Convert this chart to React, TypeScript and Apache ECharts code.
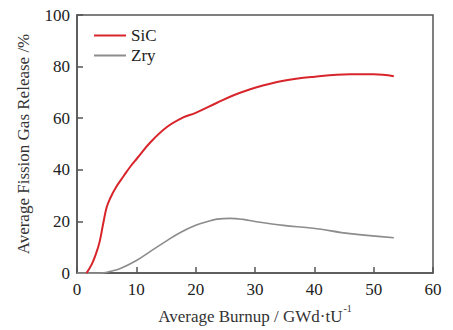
import React, { useEffect, useRef } from "react";
import * as echarts from "echarts";

const sicX = [1.6, 2.5, 3.2, 3.8, 4.4, 5.0, 5.6, 6.5, 7.9, 9, 10.1, 12.3, 15.1, 17.9, 19.9, 23.6, 26.4, 30, 34.8, 39.8, 46, 50, 53.4];
const sicY = [0, 3.5, 7.5, 12, 19, 25.5, 29, 33, 37.7, 41.3, 44.4, 50.5, 56.5, 60.3, 62, 66, 68.9, 71.8, 74.5, 76, 77, 77, 76.3];
const zryX = [0, 3, 4.5, 5.5, 7.3, 10.1, 12.3, 15.1, 17.5, 19.9, 22, 23.6, 25.8, 28, 30, 34.8, 39.8, 46, 53.4];
const zryY = [0, 0, 0.1, 0.6, 1.8, 5, 8.3, 12.5, 15.8, 18.4, 20, 20.9, 21.2, 20.8, 20, 18.5, 17.4, 15.3, 13.7];
const seriesNames = ["SiC", "Zry"];
const seriesColors = ["#d7252b", "#8c8c8c"];

export default function App() {
  const ref = useRef<HTMLDivElement>(null);
  useEffect(() => {
    const chart = echarts.init(ref.current!, null, { renderer: "svg" });
    const font = "'Liberation Serif', 'Times New Roman', serif";
    const axisColor = "#555";
    chart.setOption({
      animation: false,
      textStyle: { fontFamily: font },
      grid: { left: 77, top: 15, right: 20, bottom: 47, show: true, borderColor: axisColor, borderWidth: 1.5 },
      legend: {
        left: 89,
        top: 22,
        orient: "vertical",
        itemGap: 3,
        itemWidth: 32,
        itemHeight: 2,
        textStyle: { fontFamily: font, fontSize: 17, color: "#222" },
        data: seriesNames.map((n, i) => ({
          name: n,
          icon: "rect",
          itemStyle: { color: seriesColors[i], borderWidth: 0 },
        })),
      },
      xAxis: {
        type: "value",
        min: 0,
        max: 60,
        interval: 10,
        name: "{n|Average Burnup / GWd·tU}{s|-1}",
        nameLocation: "middle",
        nameGap: 28,
        nameTextStyle: {
          rich: {
            n: { fontFamily: font, fontSize: 17, color: "#333", verticalAlign: "bottom" },
            s: { fontFamily: font, fontSize: 10, color: "#333", verticalAlign: "top", padding: [0, 0, 12, 1] },
          },
        },
        axisLine: { lineStyle: { color: axisColor, width: 1.5 } },
        axisTick: { inside: true, length: 6, lineStyle: { color: axisColor, width: 1.5 } },
        axisLabel: { fontFamily: font, fontSize: 17, color: "#222", margin: 8 },
        splitLine: { show: false },
      },
      yAxis: {
        type: "value",
        min: 0,
        max: 100,
        interval: 20,
        name: "Average Fission Gas Release /%",
        nameLocation: "middle",
        nameGap: 45,
        nameTextStyle: { fontFamily: font, fontSize: 17, color: "#333" },
        axisLine: { lineStyle: { color: axisColor, width: 1.5 } },
        axisTick: { inside: true, length: 6, lineStyle: { color: axisColor, width: 1.5 } },
        axisLabel: { fontFamily: font, fontSize: 17, color: "#222", margin: 7 },
        splitLine: { show: false },
      },
      series: [
        {
          name: seriesNames[1],
          type: "line",
          smooth: 0.4,
          symbol: "none",
          data: zryX.map((x, i) => [x, zryY[i]]),
          lineStyle: { color: seriesColors[1], width: 1.6 },
          itemStyle: { color: seriesColors[1] },
          z: 2,
        },
        {
          name: seriesNames[0],
          type: "line",
          smooth: 0.4,
          symbol: "none",
          data: sicX.map((x, i) => [x, sicY[i]]),
          lineStyle: { color: seriesColors[0], width: 2 },
          itemStyle: { color: seriesColors[0] },
          z: 3,
        },
      ],
    });
    return () => chart.dispose();
  }, []);
  return <div ref={ref} style={{ width: 453, height: 330, position: "absolute", left: 0, top: 0 }} />;
}
